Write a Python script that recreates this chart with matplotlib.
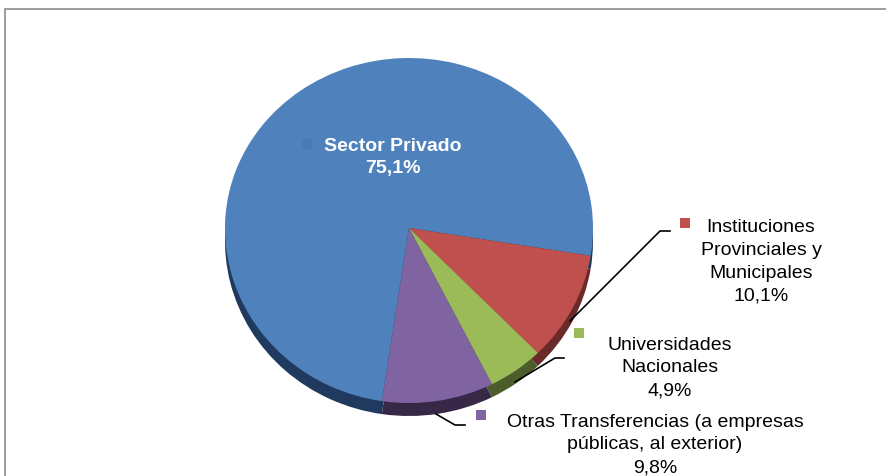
import matplotlib
matplotlib.use("Agg")
import matplotlib.pyplot as plt
from matplotlib.patches import PathPatch
from matplotlib.path import Path

plt.rcParams['font.family'] = ['Liberation Sans', 'DejaVu Sans']

# ---------- DATA ----------
categories = ["Sector Privado", "Instituciones\nProvinciales y\nMunicipales",
              "Universidades\nNacionales",
              "Otras Transferencias (a empresas\npúblicas, al exterior)"]
values = [75.1, 10.1, 4.9, 9.8]
value_labels = ["75,1%", "10,1%", "4,9%", "9,8%"]
colors = ["#4f81bd", "#c0504d", "#9bbb59", "#8064a2"]
side_colors = ["#1f3a5e", "#6a2a2a", "#4c5c2a", "#382848"]

W, H = 886, 477
fig = plt.figure(figsize=(W / 100, H / 100), dpi=100)

# ---------- PIE ----------
cx, cy, rx = 409, 229, 184
ry_up, ry_down, depth = 170, 175, 13
ax = fig.add_axes([(cx - rx) / W, 1 - (cy + ry_down + depth) / H, 2 * rx / W, (ry_up + ry_down + depth) / H])


def draw_pie(cols, offset):
    # the top half of the pie is a bit flatter (perspective), so squash it by hand
    wedges, _ = ax.pie(values, colors=cols, startangle=261.5, counterclock=False, radius=1)
    for w, c in zip(wedges, cols):
        p = w.get_patch_transform().transform_path(w.get_path())
        verts = p.vertices.copy()
        verts[verts[:, 1] > 0, 1] *= ry_up / ry_down
        verts[:, 1] += offset
        ax.add_patch(PathPatch(Path(verts, p.codes), facecolor=c, edgecolor='none'))
        w.remove()


draw_pie(side_colors, -depth / ry_down)
draw_pie(colors, 0)
ax.set_aspect('auto')
ax.set_xlim(-1, 1)
ax.set_ylim(-1 - depth / ry_down, ry_up / ry_down)
ax.axis('off')

# ---------- OVERLAY (pixel coords) ----------
ov = fig.add_axes([0, 0, 1, 1], facecolor='none')
ov.set_xlim(0, W)
ov.set_ylim(H, 0)
ov.axis('off')

# frame
ov.plot([5, 5, W], [H, 9.5, 9.5], color="#8c8c8c", lw=1.2, solid_joinstyle='miter')

# leader lines
ov.plot([570, 660, 670], [322, 232, 232], color="black", lw=1.2)
ov.plot([515, 555, 564], [383, 359, 359], color="black", lw=1.2)
ov.plot([436, 455, 465], [415, 426, 426], color="black", lw=1.2)

# legend keys
keys = [(307, 145), (685, 224), (579, 334), (481, 416)]
key_colors = ["#4a7bb5", colors[1], colors[2], colors[3]]
for (kx, ky), kc in zip(keys, key_colors):
    ov.scatter([kx], [ky], marker='s', s=52, color=kc, linewidths=0)

# labels
fs = 14
ls = 1.45
ov.text(393, 157.5, categories[0] + "\n" + value_labels[0], color="white", fontsize=fs,
        fontweight='bold', ha='center', va='center', linespacing=1.4)
ov.text(761, 262, categories[1] + "\n" + value_labels[1], fontsize=fs, ha='center', va='center',
        linespacing=ls)
ov.text(670, 368, categories[2] + "\n" + value_labels[2], fontsize=fs, ha='center', va='center',
        linespacing=ls)
ov.text(655, 445, categories[3] + "\n" + value_labels[3], fontsize=fs, ha='center', va='center',
        linespacing=ls)

fig.savefig("out.png", dpi=100)
